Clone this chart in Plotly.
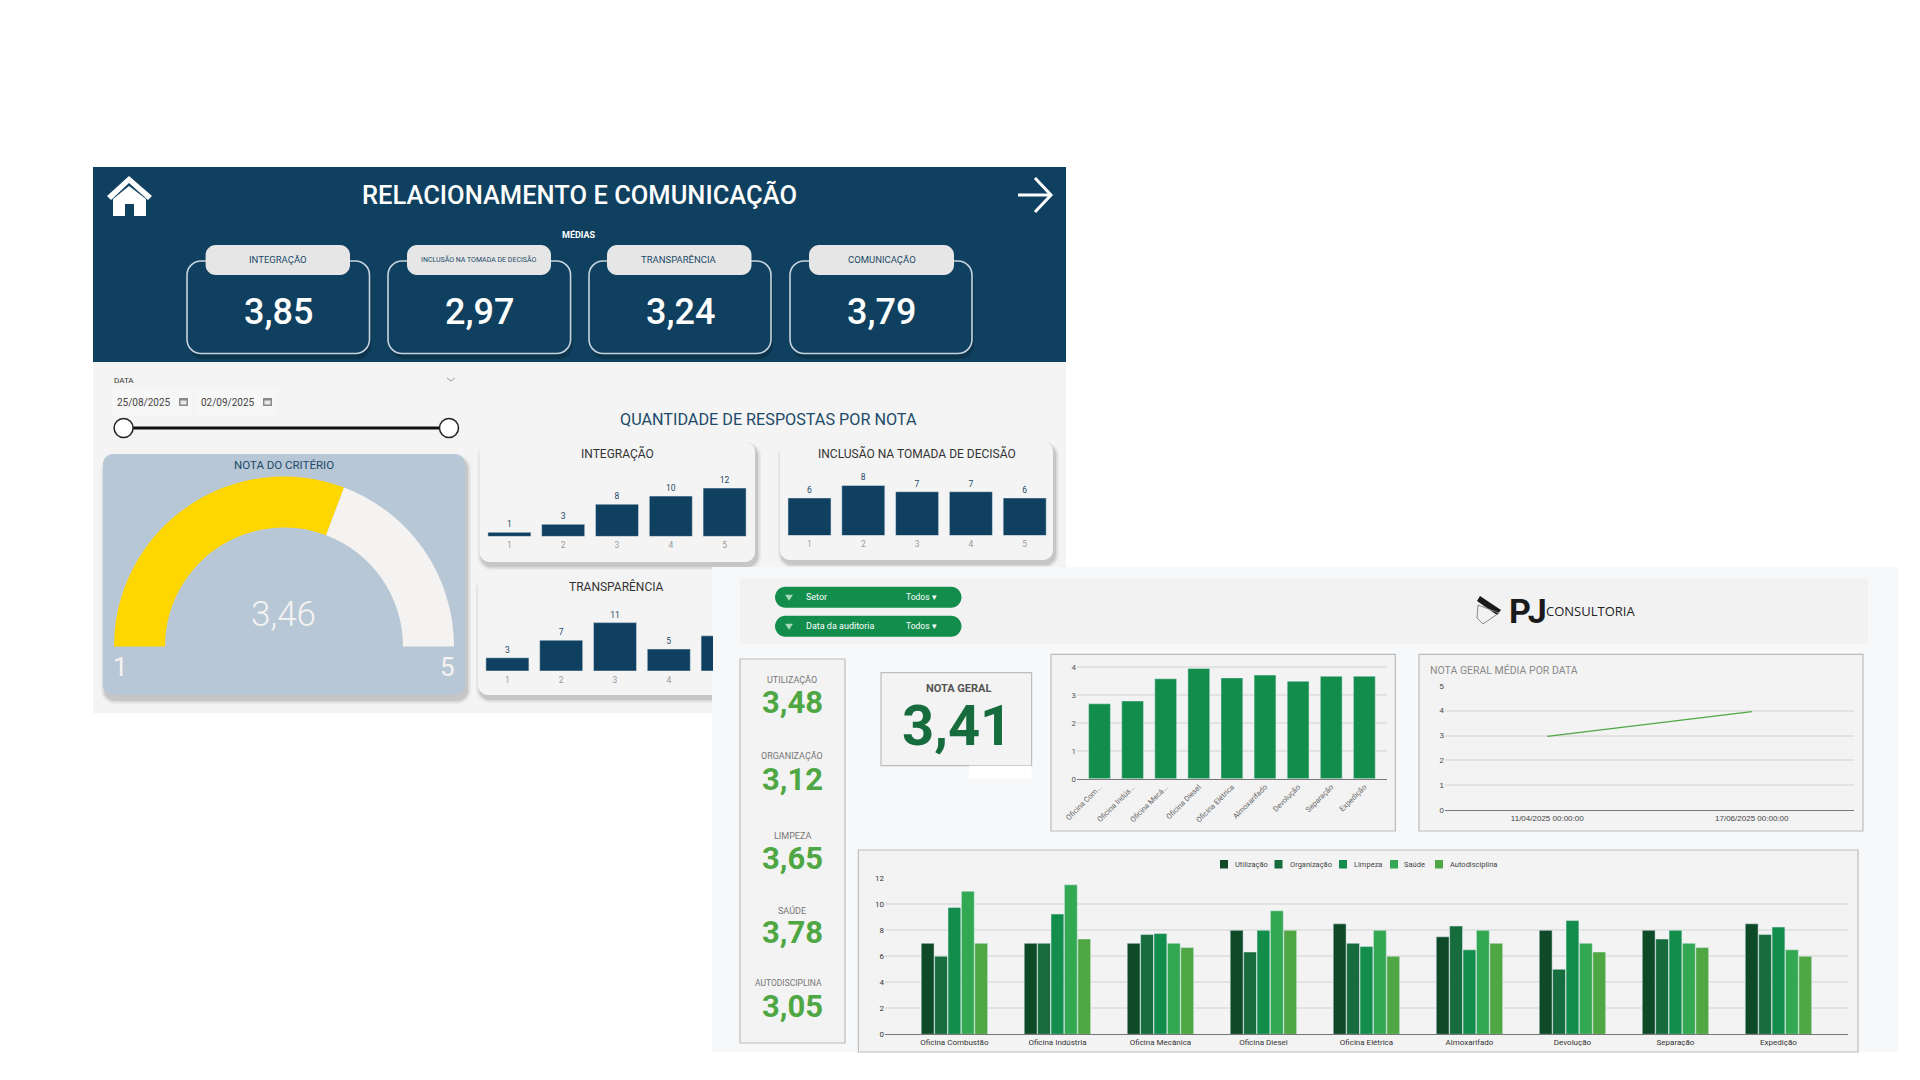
import plotly.graph_objects as go

W, H = 1920, 1080

# ---------- data ----------
kpi_labels = ["INTEGRAÇÃO", "INCLUSÃO NA TOMADA DE DECISÃO", "TRANSPARÊNCIA", "COMUNICAÇÃO"]
kpi_values = ["3,85", "2,97", "3,24", "3,79"]
notas = [1, 2, 3, 4, 5]
integracao = [1, 3, 8, 10, 12]
inclusao = [6, 8, 7, 7, 6]
transparencia = [3, 7, 11, 5, 8]
gauge_value = 3.46
gauge_min = 1
gauge_max = 5

audit_labels = ["UTILIZAÇÃO", "ORGANIZAÇÃO", "LIMPEZA", "SAÚDE", "AUTODISCIPLINA"]
audit_values = ["3,48", "3,12", "3,65", "3,78", "3,05"]
setores_curto = ["Oficina Com...", "Oficina Indús...", "Oficina Mecâ...", "Oficina Diesel", "Oficina Elétrica",
                 "Almoxarifado", "Devolução", "Separação", "Expedição"]
setores = ["Oficina Combustão", "Oficina Indústria", "Oficina Mecânica", "Oficina Diesel", "Oficina Elétrica",
           "Almoxarifado", "Devolução", "Separação", "Expedição"]
nota_setor = [2.69, 2.79, 3.59, 3.96, 3.62, 3.72, 3.50, 3.68, 3.68]
datas = ["11/04/2025 00:00:00", "17/06/2025 00:00:00"]
nota_data = [2.97, 3.96]
utilizacao = [7, 7, 7, 8, 8.5, 7.5, 8, 8, 8.5]
organizacao = [6, 7, 7.67, 6.33, 7, 8.33, 5, 7.33, 7.67]
limpeza = [9.75, 9.25, 7.75, 8, 6.75, 6.5, 8.75, 8, 8.25]
saude = [11, 11.5, 7, 9.5, 8, 8, 7, 7, 6.5]
autodisciplina = [7, 7.33, 6.67, 8, 6, 7, 6.33, 6.67, 6]

# ---------- style ----------
NAVY = "#10405F"
NAVY_TXT = "#1D4A68"
ROBOTO = "Roboto"
GREENS = ["#0F4A28", "#166C3C", "#128D4C", "#33A852", "#4EA743"]


def px(x):
    return x / W


def py(y):
    return 1 - y / H


shapes = []
annotations = []


def rr_path(x0, y0, x1, y1, r):
    k = r * 0.45
    pts = [
        f"M{px(x0 + r)},{py(y0)}", f"L{px(x1 - r)},{py(y0)}",
        f"C{px(x1 - k)},{py(y0)} {px(x1)},{py(y0 + k)} {px(x1)},{py(y0 + r)}",
        f"L{px(x1)},{py(y1 - r)}",
        f"C{px(x1)},{py(y1 - k)} {px(x1 - k)},{py(y1)} {px(x1 - r)},{py(y1)}",
        f"L{px(x0 + r)},{py(y1)}",
        f"C{px(x0 + k)},{py(y1)} {px(x0)},{py(y1 - k)} {px(x0)},{py(y1 - r)}",
        f"L{px(x0)},{py(y0 + r)}",
        f"C{px(x0)},{py(y0 + k)} {px(x0 + k)},{py(y0)} {px(x0 + r)},{py(y0)}", "Z",
    ]
    return " ".join(pts)


def rrect(x0, y0, x1, y1, r=0, fill=None, line=None, lw=1):
    sh = dict(xref="paper", yref="paper", layer="below",
              fillcolor=fill or "rgba(0,0,0,0)",
              line=dict(color=line or "rgba(0,0,0,0)", width=lw if line else 0))
    if r:
        sh.update(type="path", path=rr_path(x0, y0, x1, y1, r))
    else:
        sh.update(type="rect", x0=px(x0), x1=px(x1), y0=py(y1), y1=py(y0))
    shapes.append(sh)


def shadow(x0, y0, x1, y1, r, dy=5, dx=2):
    for grow, a in ((4, 0.05), (2.5, 0.07), (1, 0.10)):
        rrect(x0 + dx - grow, y0 + dy - grow, x1 + dx + grow, y1 + dy + grow, r + grow, fill=f"rgba(30,30,40,{a})")


def poly(points, fill=None, line=None, lw=1, closed=True):
    d = "M" + " L".join(f"{px(x)},{py(y)}" for x, y in points) + (" Z" if closed else "")
    shapes.append(dict(type="path", path=d, xref="paper", yref="paper", layer="below",
                       fillcolor=fill or "rgba(0,0,0,0)",
                       line=dict(color=line or "rgba(0,0,0,0)", width=lw if line else 0)))


def circle(cx, cy, r, fill, line, lw):
    shapes.append(dict(type="circle", xref="paper", yref="paper", layer="below",
                       x0=px(cx - r), x1=px(cx + r), y0=py(cy + r), y1=py(cy - r),
                       fillcolor=fill, line=dict(color=line, width=lw)))


def text(x, y, s, size, color, family=ROBOTO, anchor="center", bold=False, weight=None):
    font = dict(size=size, color=color, family=family)
    if weight:
        font["weight"] = weight
    annotations.append(dict(x=px(x), y=py(y), xref="paper", yref="paper", showarrow=False,
                            text=f"<b>{s}</b>" if bold else s, xanchor=anchor, yanchor="middle",
                            font=font))


fig = go.Figure()
layout_axes = {}
axis_n = [1]


def axes(x0, x1, y_top, y_base, xr, yr, **xkw):
    n = axis_n[0]
    axis_n[0] += 1
    sfx = "" if n == 1 else str(n)
    layout_axes[f"xaxis{sfx}"] = dict(domain=[px(x0), px(x1)], range=xr, anchor=f"y{sfx}", showgrid=False,
                                      zeroline=False, fixedrange=True, automargin=False, **xkw)
    layout_axes[f"yaxis{sfx}"] = dict(domain=[py(y_base), py(y_top)], range=yr, anchor=f"x{sfx}",
                                      fixedrange=True, automargin=False)
    return f"x{sfx}", f"y{sfx}", f"yaxis{sfx}"


# ---------- top dashboard panel ----------
rrect(93, 362, 1066, 713, fill="#F4F4F4")
rrect(93, 167, 1066, 362, fill=NAVY)

text(579, 195, "RELACIONAMENTO E COMUNICAÇÃO", 25.5, "#FFFFFF", weight=500)
text(579, 235, "MÉDIAS", 9, "#FFFFFF", bold=True)

# home icon
poly([(107, 196), (129, 176), (152, 196), (148, 200), (129, 183), (111, 200)], fill="#FFFFFF")
poly([(113, 199), (129, 186), (146, 199), (146, 216), (134, 216), (134, 204), (125, 204), (125, 216), (113, 216)],
     fill="#FFFFFF")
# arrow icon
poly([(1018, 195), (1050, 195)], line="#FFFFFF", lw=3, closed=False)
poly([(1035, 178), (1051, 195), (1035, 212)], line="#FFFFFF", lw=3, closed=False)

card_x = [(187, 369.5), (388, 570.6), (589, 771), (790, 972)]
pill_x = [(205.6, 350), (407, 551), (607, 751.5), (809, 954)]
for (a, b), (c, d), lab, val in zip(card_x, pill_x, kpi_labels, kpi_values):
    rrect(a + 2, 265, b + 2, 359, 14, fill="rgba(0,0,0,0.18)")
    rrect(a, 261, b, 353.5, 14, fill=NAVY, line="#C7D4DF", lw=1.6)
    rrect(c, 245, d, 275, 10, fill="#E6E6E6")
    text((c + d) / 2, 260, lab, 7 if len(lab) > 20 else 9.5, NAVY_TXT)
    text((a + b) / 2, 312, val, 36, "#FFFFFF", family=ROBOTO, weight=500)

# date slicer
text(112, 380, "DATA", 8, "#333333", anchor="left")
poly([(447, 378), (451, 381), (455, 378)], line="#999999", lw=1, closed=False)
for cx, s in ((144, "25/08/2025"), (228, "02/09/2025")):
    rrect(cx - 32, 389, cx + 48, 415, fill="#F7F7F7")
    text(cx, 402, s, 10, "#444444")
    rrect(cx + 35, 398, cx + 44, 406, fill="#8A8A8A")
    rrect(cx + 36.5, 400.5, cx + 42.5, 404.5, fill="#E8E8E8")
shapes.append(dict(type="line", xref="paper", yref="paper", layer="below", x0=px(123), x1=px(449),
                   y0=py(428), y1=py(428), line=dict(color="#111111", width=3)))
circle(123.6, 428, 9.5, "#FFFFFF", "#222222", 1.5)
circle(449, 428, 9.5, "#FFFFFF", "#222222", 1.5)

# gauge card
shadow(103, 454, 465, 695, 10)
rrect(103, 454, 465, 695, 10, fill="#B8C7D6")
text(284, 465, "NOTA DO CRITÉRIO", 11.5, NAVY_TXT)
text(283, 614.5, "3,46", 35, "#F5F3F2", family=ROBOTO, weight=300)
text(120, 667, "1", 26, "#F5F3F2", family=ROBOTO)
text(447.6, 667, "5", 26, "#F5F3F2", family=ROBOTO)

fig.add_trace(go.Pie(
    values=[gauge_value - gauge_min, gauge_max - gauge_value, gauge_max - gauge_min],
    marker=dict(colors=["#FFD700", "#F5F3F2", "rgba(0,0,0,0)"], line=dict(width=0)),
    hole=0.7, sort=False, direction="clockwise", rotation=270, textinfo="none", hoverinfo="skip",
    showlegend=False,
    domain=dict(x=[px(114), px(454)], y=[py(816.5), py(476.5)]),
))

text(768, 420, "QUANTIDADE DE RESPOSTAS POR NOTA", 16.2, NAVY_TXT)

small_cards = [
    ("INTEGRAÇÃO", integracao, (479.5, 442, 755, 562), (482.5, 751.7, 536.4), 4.03, 16, notas, (617, 453)),
    ("INCLUSÃO NA TOMADA DE DECISÃO", inclusao, (780, 442, 1053, 560), (782.6, 1050.8, 535.6), 6.27, 10, notas, (917, 453)),
    ("TRANSPARÊNCIA", transparencia, (478, 575, 760, 695), (480.5, 713, 671), 4.4, 14, notas[:4], (616, 586.5)),
]
for title, vals, (a, b, c, d), (x0, x1, base), scale, ymax, ticks, (tx, ty) in small_cards:
    shadow(a, b, c, d, 10, dy=4)
    rrect(a, b, c, d, 10, fill="#F4F4F4")
    text(tx, ty, title, 12, "#333333")
    xr = [0.5, 0.5 + (x1 - x0) / 53.8]
    xa, ya, yname = axes(x0, x1, base - scale * ymax, base, xr, [0, ymax],
                         tickmode="array", tickvals=ticks, ticktext=[str(t) for t in ticks],
                         showline=False, ticks="", ticklabelstandoff=2,
                         tickfont=dict(size=8.5, color="#9A9A9A", family=ROBOTO))
    layout_axes[yname].update(visible=False)
    fig.add_trace(go.Bar(x=notas, y=vals, xaxis=xa, yaxis=ya, width=0.8, marker=dict(color=NAVY),
                         text=[str(v) for v in vals], textposition="outside", cliponaxis=True,
                         textfont=dict(size=8.5, color=NAVY_TXT, family=ROBOTO), showlegend=False, hoverinfo="skip"))

# ---------- lower dashboard panel ----------
rrect(712, 567, 1898, 1052, fill="#F7F8FA")
rrect(740, 578, 1868, 644, fill="#F2F2F2")

for y0, s in ((586.7, "Setor"), (615.7, "Data da auditoria")):
    rrect(775, y0, 961.5, y0 + 21, 10.5, fill="#128D4C")
    poly([(785, y0 + 8), (793, y0 + 8), (789, y0 + 14)], fill="#A8D8BC")
    text(804, y0 + 10.5, s, 9, "#FFFFFF", anchor="left")
    text(904, y0 + 10.5, "Todos ▾", 8.5, "#FFFFFF", anchor="left")

# logo
poly([(1480, 596), (1501, 610), (1497, 615), (1477, 601)], fill="#1A1A1A")
poly([(1478, 605), (1499, 613), (1483, 624), (1477, 618)], line="#8A8A8A", lw=1)
text(1507, 610.5, "PJ", 34, "#1A1A1A", family=ROBOTO, anchor="left", bold=True)
text(1544, 611, "CONSULTORIA", 13, "#222222", family="Open Sans", anchor="left")

# audit KPI card
rrect(740, 659, 845, 1043, fill="#F3F3F3", line="#BDBDBD", lw=1.2)
audit_pos = [(792, 680, 702.7), (792, 756, 779), (792, 835.7, 858), (792, 910, 932.7), (788.5, 983, 1006.7)]
for lab, val, (xl, yl, yv) in zip(audit_labels, audit_values, audit_pos):
    text(xl, yl, lab, 8.5 if len(lab) > 12 else 9, "#777777")
    text(792, yv, val, 31, "#4EA743", family=ROBOTO, bold=True)

# nota geral
rrect(881, 672.7, 1031.6, 765.7, fill="#F3F3F3", line="#BDBDBD", lw=1.2)
rrect(969, 765.7, 1031.6, 778.3, fill="#FFFFFF")
text(958, 688, "NOTA GERAL", 11, "#555555", bold=True)
text(957, 726, "3,41", 56, "#166C3C", family=ROBOTO, bold=True)

GRID = "#E2E2E2"
AX_FONT = dict(size=8, color="#555555", family=ROBOTO)

# bar by sector
rrect(1051, 654.3, 1395.4, 831, fill="#F3F3F3", line="#BDBDBD", lw=1.2)
xa, ya, yname = axes(1077, 1386.5, 667.3 - 27.8 * 0.05, 778.7, [-0.68, 8.67], [0, 4.05],
                     tickmode="array", tickvals=list(range(9)), ticktext=setores_curto,
                     tickangle=-45, showline=True, linecolor="#777777", ticks="",
                     tickfont=dict(size=7.5, color="#666666", family=ROBOTO))
layout_axes[yname].update(tickmode="array", tickvals=[0, 1, 2, 3, 4], gridcolor=GRID, gridwidth=1.5,
                          zeroline=False, tickfont=AX_FONT, ticks="")
fig.add_trace(go.Bar(x=list(range(9)), y=nota_setor, xaxis=xa, yaxis=ya, width=0.66,
                     marker=dict(color="#128D4C"), showlegend=False, hoverinfo="skip"))

# line by date
rrect(1419, 654.3, 1863, 831, fill="#F3F3F3", line="#BDBDBD", lw=1.2)
text(1428, 670, "NOTA GERAL MÉDIA POR DATA", 10.5, "#8A8A8A", anchor="left")
xa, ya, yname = axes(1445, 1854, 685.7, 810.3, [-0.5, 1.5], [0, 5],
                     tickmode="array", tickvals=[0, 1], ticktext=datas, showline=True, linecolor="#777777",
                     ticks="", tickfont=dict(size=8, color="#444444", family="Liberation Sans"))
layout_axes[yname].update(tickmode="array", tickvals=[0, 1, 2, 3, 4, 5], gridcolor=GRID, gridwidth=1.5,
                          zeroline=False, tickfont=dict(size=8, color="#444444", family="Liberation Sans"), ticks="")
fig.add_trace(go.Scatter(x=[0, 1], y=nota_data, xaxis=xa, yaxis=ya, mode="lines",
                         line=dict(color="#4EA743", width=1.3), showlegend=False, hoverinfo="skip"))

# grouped bars
rrect(858.4, 850, 1858, 1052, fill="#F3F3F3", line="#BDBDBD", lw=1.2)
xa, ya, yname = axes(885, 1848, 878.3, 1034.3, [-0.674, 8.675], [0, 12],
                     tickmode="array", tickvals=list(range(9)), ticktext=setores, showline=True,
                     linecolor="#777777", ticks="", tickfont=dict(size=8, color="#333333", family=ROBOTO))
layout_axes[yname].update(tickmode="array", tickvals=[0, 2, 4, 6, 8, 10, 12], gridcolor=GRID, gridwidth=1.5,
                          zeroline=False, tickfont=dict(size=8, color="#333333", family=ROBOTO), ticks="")
series = [("Utilização", utilizacao), ("Organização", organizacao), ("Limpeza", limpeza),
          ("Saúde", saude), ("Autodisciplina", autodisciplina)]
for (name, vals), col in zip(series, GREENS):
    fig.add_trace(go.Bar(name=name, x=list(range(9)), y=vals, xaxis=xa, yaxis=ya,
                         marker=dict(color=col), hoverinfo="skip", showlegend=False))

# compact legend, built from the series above
legend_pos = [(1220, 1233), (1274.5, 1288), (1339, 1351.5), (1390, 1402), (1435, 1448)]
for (name, _), col, (sq, tx) in zip(series, GREENS, legend_pos):
    rrect(sq, 860, sq + 8, 868.5, fill=col)
    text(tx, 864.3, name, 7.5, "#444444", anchor="left")

fig.update_layout(
    width=W, height=H, autosize=False,
    margin=dict(l=0, r=0, t=0, b=0, pad=0),
    paper_bgcolor="#FFFFFF", plot_bgcolor="rgba(0,0,0,0)",
    barmode="group", bargap=0.35, bargroupgap=0.04,
    shapes=shapes, annotations=annotations, showlegend=False,
    font=dict(family=ROBOTO),
    **layout_axes,
)

fig.write_html("out.html", config=dict(displayModeBar=False),
               post_script="document.body.style.margin='0';document.body.style.overflow='hidden';")
